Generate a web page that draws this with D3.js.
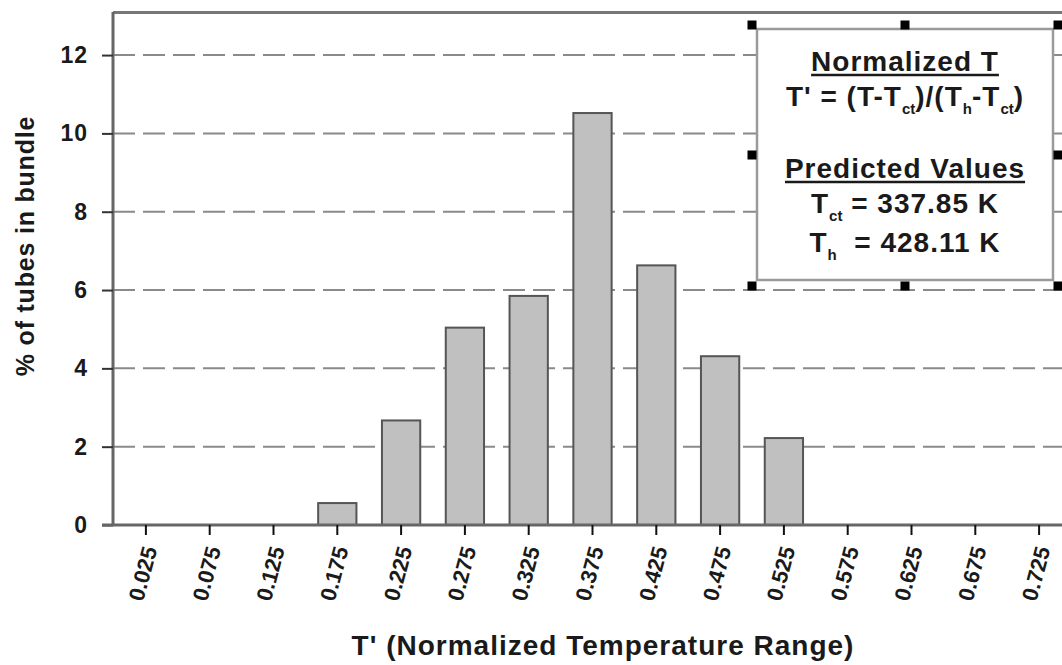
<!DOCTYPE html>
<html>
<head>
<meta charset="utf-8">
<script src="https://cdn.jsdelivr.net/npm/d3@7"></script>
<style>
  body { margin: 0; background: #fff; }
  svg { display: block; }
  text { font-family: "Liberation Sans", Arial, sans-serif; font-weight: bold; fill: #1a1a1a; }
</style>
</head>
<body>
<div id="chart"></div>
<script>
// T' bins (centre of each bin) and % of tubes in bundle
const categories = ["0.025", "0.075", "0.125", "0.175", "0.225", "0.275", "0.325", "0.375",
                    "0.425", "0.475", "0.525", "0.575", "0.625", "0.675", "0.725"];
const percents = [0, 0, 0, 0.56, 2.67, 5.04, 5.85, 10.52, 6.63, 4.31, 2.22, 0, 0, 0, 0];
const yTicks = [0, 2, 4, 6, 8, 10, 12];
const predictedTct = "337.85";
const predictedTh = "428.11";

let width = 1062, height = 665;
let svg = d3.select("#chart").append("svg")
    .attr("width", width)
    .attr("height", height);

let plotLeft = 113, plotTop = 12, plotBottom = 525;

// plot runs past the right edge of the picture
let x = d3.scaleBand()
    .domain(categories)
    .range([114, 114 + categories.length * 63.8])
    .paddingInner(0.4)
    .paddingOuter(0.2);

let y = d3.scaleLinear()
    .domain([0, 13.1])
    .range([plotBottom, plotTop]);

// dashed grid
svg.append("g")
    .selectAll("line")
    .data(yTicks.filter(d => d > 0))
    .enter().append("line")
    .attr("x1", plotLeft).attr("x2", width)
    .attr("y1", d => y(d)).attr("y2", d => y(d))
    .attr("stroke", "#8a8a8a")
    .attr("stroke-width", 2)
    .attr("stroke-dasharray", "22,8");

// bars
svg.append("g")
    .selectAll("rect")
    .data(categories.map((c, i) => ({c: c, v: percents[i]})).filter(d => d.v > 0))
    .enter().append("rect")
    .attr("x", d => x(d.c))
    .attr("y", d => y(d.v))
    .attr("width", x.bandwidth())
    .attr("height", d => plotBottom - y(d.v))
    .attr("fill", "#c0c0c0")
    .attr("stroke", "#555")
    .attr("stroke-width", 2);

// frame: top border
svg.append("line")
    .attr("x1", plotLeft).attr("x2", width)
    .attr("y1", plotTop + 0.5).attr("y2", plotTop + 0.5)
    .attr("stroke", "#777").attr("stroke-width", 3);

// y axis
let yAxis = d3.axisLeft(y).tickValues(yTicks).tickSize(11).tickPadding(14);
let gy = svg.append("g")
    .attr("transform", `translate(${plotLeft},0)`)
    .call(yAxis);
gy.select(".domain").attr("stroke", "#666").attr("stroke-width", 3)
    .attr("d", `M0,${plotTop}V${plotBottom}`);
gy.selectAll(".tick line").attr("stroke", "#333").attr("stroke-width", 2);
gy.selectAll(".tick text")
    .style("font-size", "23px")
    .style("font-family", "Liberation Sans, Arial, sans-serif")
    .style("font-weight", "bold")
    .style("letter-spacing", "1px")
    .attr("fill", "#1a1a1a");

// x axis
let xAxis = d3.axisBottom(x).tickSize(10).tickSizeOuter(0);
let gx = svg.append("g")
    .attr("transform", `translate(0,${plotBottom})`)
    .call(xAxis);
gx.select(".domain").attr("stroke", "#666").attr("stroke-width", 3)
    .attr("d", `M${plotLeft - 11},0H${width}`);
gx.selectAll(".tick line").attr("stroke", "#111").attr("stroke-width", 2);
gx.selectAll(".tick text")
    .style("font-size", "22px")
    .style("font-family", "Liberation Sans, Arial, sans-serif")
    .style("font-weight", "bold")
    .attr("fill", "#1a1a1a")
    .attr("text-anchor", "end")
    .attr("y", 0).attr("dy", "0.35em")
    .attr("transform", "translate(4,22) rotate(-75)");

// axis titles
svg.append("text")
    .attr("transform", "translate(34,246) rotate(-90)")
    .attr("text-anchor", "middle")
    .style("font-size", "25px")
    .style("letter-spacing", "0.8px")
    .text("% of tubes in bundle");

svg.append("text")
    .attr("x", 603).attr("y", 655)
    .attr("text-anchor", "middle")
    .style("font-size", "28px")
    .style("letter-spacing", "1px")
    .text("T' (Normalized Temperature Range)");

// text box
let box = {x: 757, y: 29, w: 296, h: 251};
svg.append("rect")
    .attr("x", box.x).attr("y", box.y)
    .attr("width", box.w).attr("height", box.h)
    .attr("fill", "#fff")
    .attr("stroke", "#9a9a9a").attr("stroke-width", 2.5);

let cx = box.x + box.w / 2;

function line(yPos, parts, underline) {
    let t = svg.append("text")
        .attr("x", cx).attr("y", yPos)
        .attr("text-anchor", "middle")
        .attr("xml:space", "preserve")
        .style("white-space", "pre")
        .style("font-size", "28px")
        .style("letter-spacing", "1px");
    parts.forEach(p => {
        let s = t.append("tspan").text(p[0]);
        if (p[1]) s.style("font-size", "15px").style("letter-spacing", "0px").attr("dy", 8);
        else if (p[2]) s.attr("dy", -8);
    });
    if (underline) {
        let bb = t.node().getBBox();
        svg.append("line")
            .attr("x1", bb.x).attr("x2", bb.x + bb.width)
            .attr("y1", yPos + 4).attr("y2", yPos + 4)
            .attr("stroke", "#1a1a1a").attr("stroke-width", 2.5);
    }
}

line(71, [["Normalized T"]], true);
line(106, [["T' = (T-T"], ["ct", true], [")/(T", false, true], ["h", true], ["-T", false, true], ["ct", true], [")", false, true]], false);
line(178, [["Predicted Values"]], true);
line(213, [["T"], ["ct", true], [" = " + predictedTct + " K", false, true]], false);
line(252, [["T"], ["h", true], ["  = " + predictedTh + " K", false, true]], false);

// selection handles around the text box
let handles = [[752, 25], [905, 25], [1058, 25], [752, 155], [1058, 155], [752, 286], [905, 286], [1058, 286]];
svg.append("g")
    .selectAll("rect")
    .data(handles)
    .enter().append("rect")
    .attr("x", d => d[0] - 4.5).attr("y", d => d[1] - 4.5)
    .attr("width", 9).attr("height", 9)
    .attr("fill", "#000");
</script>
</body>
</html>
